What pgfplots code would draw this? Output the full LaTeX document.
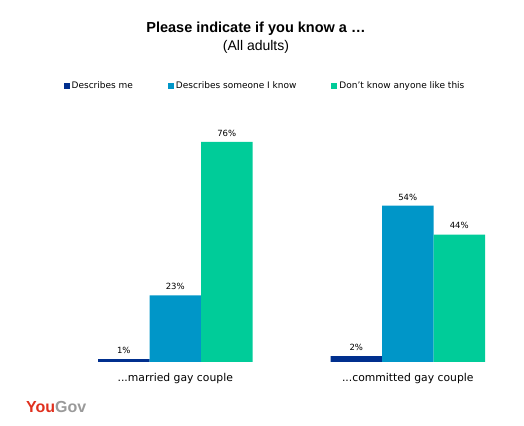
\documentclass[border=0pt]{standalone}
\usepackage{pgfplots}
\pgfplotsset{compat=1.18}
\usepackage{fontspec}
\setmainfont{DejaVu Sans}
\newfontfamily\arialfont{Liberation Sans}
\definecolor{cme}{HTML}{002F8E}
\definecolor{csome}{HTML}{0096C8}
\definecolor{cnone}{HTML}{00CC99}
\definecolor{ygred}{HTML}{E0301E}
\definecolor{yggrey}{HTML}{9A9A9A}
\begin{document}
\begin{tikzpicture}[x=1bp,y=1bp]
\path (0,0) rectangle (524,426);
\node[font=\arialfont\bfseries\fontsize{14.5bp}{16bp}\selectfont] at (256,397) {Please indicate if you know a \dots};
\node[font=\arialfont\fontsize{14bp}{16bp}\selectfont] at (256,379) {(All adults)};
\node[font=\arialfont\bfseries\fontsize{16bp}{18bp}\selectfont, anchor=west, inner sep=0pt] at (26,19) {\textcolor{ygred}{You}\textcolor{yggrey}{Gov}};
\begin{axis}[
  at={(59bp,64bp)}, anchor=south west,
  scale only axis, width=465bp, height=289.5bp,
  ybar=0pt, bar width=51.5bp,
  xmin=-0.5, xmax=1.5, ymin=0, ymax=100,
  axis line style={draw=none},
  ytick=\empty, xtick={0,1},
  xticklabels={{.{}.{}.married gay couple},{.{}.{}.committed gay couple}},
  major tick length=0pt,
  xticklabel style={font=\fontsize{10.8bp}{12bp}\selectfont, yshift=-8bp},
  /pgf/number format/assume math mode=true,
  nodes near coords={\pgfmathprintnumber{\pgfplotspointmeta}\%},
  every node near coord/.append style={font=\fontsize{8.5bp}{10bp}\selectfont, yshift=2bp},
  legend columns=3,
  legend style={at={(0.443,0.955)}, anchor=center, draw=none, font=\fontsize{9bp}{11bp}\selectfont,
    /tikz/every even column/.append style={column sep=33bp}, inner sep=0pt},
  legend image code/.code={\fill[#1] (0bp,-3bp) rectangle (6bp,3bp);},
]
\addplot[fill=cme, draw=none] coordinates {(0,1) (1,2)};
\addplot[fill=csome, draw=none] coordinates {(0,23) (1,54)};
\addplot[fill=cnone, draw=none] coordinates {(0,76) (1,44)};
\legend{Describes me, Describes someone I know, Don't know anyone like this}
\end{axis}
\end{tikzpicture}
\end{document}
